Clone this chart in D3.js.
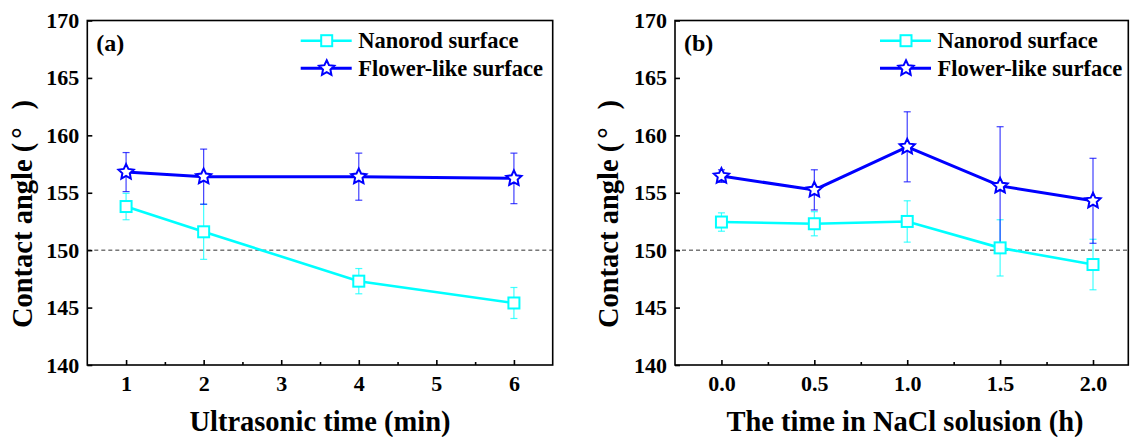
<!DOCTYPE html>
<html><head><meta charset="utf-8">
<script src="https://cdn.jsdelivr.net/npm/d3@7"></script>
<style>body{margin:0;background:#fff}svg{display:block}text{font-family:"Liberation Serif","Times New Roman",serif;font-weight:bold}</style>
</head><body>
<script>
// Panel (a)
const timeA = [1, 2, 4, 6];
const nanorodA = [153.8, 151.6, 147.3, 145.4];
const nanorodAErr = [1.15, 2.4, 1.1, 1.35];
const flowerA = [156.8, 156.4, 156.4, 156.25];
const flowerAErr = [1.7, 2.4, 2.05, 2.2];
const xTicksA = [1, 2, 3, 4, 5, 6];
// Panel (b)
const timeB = [0.0, 0.5, 1.0, 1.5, 2.0];
const nanorodB = [152.45, 152.3, 152.5, 150.2, 148.75];
const nanorodBErr = [0.8, 1.05, 1.8, 2.45, 2.2];
const flowerB = [156.45, 155.25, 159.0, 155.6, 154.3];
const flowerBErr = [0.55, 1.75, 3.05, 5.15, 3.7];
const xTicksB = [0.0, 0.5, 1.0, 1.5, 2.0];
const yTicks = [140, 145, 150, 155, 160, 165, 170];
const seriesNames = ["Nanorod surface", "Flower-like surface"];

const W = 1132, H = 437;
const TOP = 20.5, BOT = 365;
const svg = d3.select("body").append("svg").attr("width", W).attr("height", H);

const CYAN = "#00ffff", BLUE = "#0000ff";

function starPath(r1, r2) {
  const p = d3.path();
  for (let i = 0; i < 10; i++) {
    const r = i % 2 === 0 ? r1 : r2;
    const a = -Math.PI / 2 + i * Math.PI / 5;
    const x = r * Math.cos(a), y = r * Math.sin(a);
    if (i === 0) p.moveTo(x, y); else p.lineTo(x, y);
  }
  p.closePath();
  return p.toString();
}
const STAR = starPath(8, 3.9);

function drawMarker(g, type, x, y) {
  if (type === "square") {
    g.append("rect").attr("x", x - 5.5).attr("y", y - 5.5).attr("width", 11).attr("height", 11)
      .attr("fill", "#fff").attr("stroke", CYAN).attr("stroke-width", 2);
  } else {
    g.append("path").attr("d", STAR).attr("transform", `translate(${x},${y})`)
      .attr("fill", "#fff").attr("stroke", BLUE).attr("stroke-width", 2).attr("stroke-linejoin", "miter");
  }
}

function styleText(sel, size) {
  return sel.attr("font-size", size).attr("fill", "#000")
    .style("font-family", '"Liberation Serif","Times New Roman",serif').style("font-weight", "bold");
}

function panel(cfg) {
  const x = d3.scaleLinear().domain(cfg.xDomain).range([cfg.left, cfg.right]);
  const y = d3.scaleLinear().domain([140, 170]).range([BOT, TOP]);
  const g = svg.append("g");

  // dashed reference line
  g.append("line").attr("x1", cfg.left).attr("x2", cfg.right).attr("y1", y(150)).attr("y2", y(150))
    .attr("stroke", "#333").attr("stroke-width", 1).attr("stroke-dasharray", "4,3");

  // frame
  g.append("rect").attr("x", cfg.left).attr("y", TOP).attr("width", cfg.right - cfg.left).attr("height", BOT - TOP)
    .attr("fill", "none").attr("stroke", "#000").attr("stroke-width", 1.6);

  // y axis
  const ya = g.append("g").attr("transform", `translate(${cfg.left},0)`)
    .call(d3.axisLeft(y).tickValues(yTicks).tickSize(-5).tickPadding(8).tickFormat(d3.format("d")));
  ya.select(".domain").remove();
  ya.selectAll("line").attr("stroke", "#000").attr("stroke-width", 1.6);
  styleText(ya.selectAll("text"), 22);

  // x axis major
  const xa = g.append("g").attr("transform", `translate(0,${BOT})`)
    .call(d3.axisBottom(x).tickValues(cfg.xTicks).tickSize(-5).tickPadding(10).tickFormat(cfg.fmt));
  xa.select(".domain").remove();
  xa.selectAll("line").attr("stroke", "#000").attr("stroke-width", 1.6);
  styleText(xa.selectAll("text"), 22);
  // minor ticks
  const step = cfg.xTicks[1] - cfg.xTicks[0];
  const minors = d3.range(cfg.xTicks.length - 1).map(i => cfg.xTicks[i] + step / 2);
  const xm = g.append("g").attr("transform", `translate(0,${BOT})`)
    .call(d3.axisBottom(x).tickValues(minors).tickSize(-3).tickFormat(""));
  xm.select(".domain").remove();
  xm.selectAll("line").attr("stroke", "#000").attr("stroke-width", 1.6);

  // error bars
  function errBars(xs, ys, es, color) {
    xs.forEach((xv, i) => {
      const cx = x(xv), t = y(ys[i] + es[i]), b = y(ys[i] - es[i]);
      g.append("line").attr("x1", cx).attr("x2", cx).attr("y1", t).attr("y2", b).attr("stroke", color).attr("stroke-width", 1.2).attr("stroke-opacity", 0.75);
      [t, b].forEach(yy => g.append("line").attr("x1", cx - 3.5).attr("x2", cx + 3.5).attr("y1", yy).attr("y2", yy).attr("stroke", color).attr("stroke-width", 1.2).attr("stroke-opacity", 0.75));
    });
  }
  errBars(cfg.xs, cfg.nano, cfg.nanoErr, CYAN);
  errBars(cfg.xs, cfg.flower, cfg.flowerErr, BLUE);

  const line = d3.line().x(d => x(d[0])).y(d => y(d[1]));
  g.append("path").attr("d", line(cfg.xs.map((v, i) => [v, cfg.nano[i]]))).attr("fill", "none").attr("stroke", CYAN).attr("stroke-width", 2.6);
  g.append("path").attr("d", line(cfg.xs.map((v, i) => [v, cfg.flower[i]]))).attr("fill", "none").attr("stroke", BLUE).attr("stroke-width", 3);
  cfg.xs.forEach((v, i) => drawMarker(g, "square", x(v), y(cfg.nano[i])));
  cfg.xs.forEach((v, i) => drawMarker(g, "star", x(v), y(cfg.flower[i])));

  // panel label
  styleText(g.append("text").attr("x", cfg.left + 9).attr("y", 51).text(cfg.label), 24);

  // legend
  const lg = g.append("g");
  [[40.7, "square", CYAN, 2.6], [68.3, "star", BLUE, 3]].forEach(([ly, type, col, sw], i) => {
    lg.append("line").attr("x1", cfg.legX).attr("x2", cfg.legX + 51).attr("y1", ly).attr("y2", ly).attr("stroke", col).attr("stroke-width", sw);
    drawMarker(lg, type, cfg.legX + 26, ly);
    styleText(lg.append("text").attr("x", cfg.legX + 57.5).attr("y", ly + 7.5).text(seriesNames[i]), 22.5);
  });

  // axis titles
  styleText(g.append("text").attr("x", cfg.titleX).attr("y", 431).attr("text-anchor", "middle").text(cfg.xTitle), 28.5);
  const yt = styleText(g.append("text").attr("transform", `translate(${cfg.yTitleX},${cfg.yTitleY}) rotate(-90)`).attr("text-anchor", "middle"), 28.5);
  yt.append("tspan").text("Contact angle (");
  yt.append("tspan").attr("dx", 4).text("°");
  yt.append("tspan").attr("dx", 18).text(")");
}

panel({
  left: 87.3, right: 552.7, xDomain: [0.5, 6.5], xTicks: xTicksA, fmt: d3.format("d"),
  xs: timeA, nano: nanorodA, nanoErr: nanorodAErr, flower: flowerA, flowerErr: flowerAErr,
  label: "(a)", legX: 300.7, xTitle: "Ultrasonic time (min)", titleX: 320, yTitleX: 32, yTitleY: 214
});
panel({
  left: 675, right: 1128.3, xDomain: [-0.25, 2.19], xTicks: xTicksB, fmt: d3.format(".1f"),
  xs: timeB, nano: nanorodB, nanoErr: nanorodBErr, flower: flowerB, flowerErr: flowerBErr,
  label: "(b)", legX: 880, xTitle: "The time in NaCl solusion (h)", titleX: 905, yTitleX: 618, yTitleY: 214
});
</script>
</body></html>
